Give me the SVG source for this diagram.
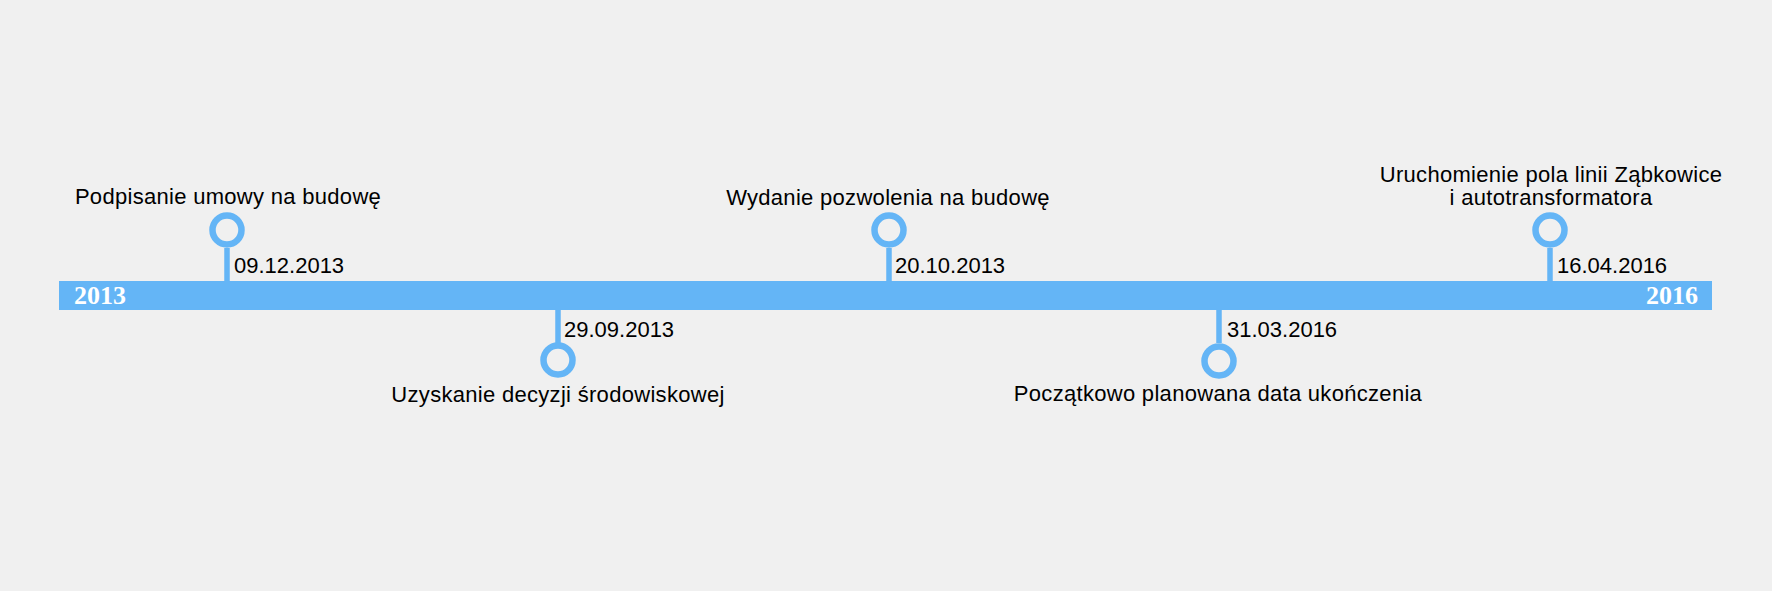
<svg xmlns="http://www.w3.org/2000/svg" width="1772" height="591" viewBox="0 0 1772 591">
<style>
.lbl{font-family:"Liberation Sans",Arial,sans-serif;font-size:22px;fill:#000}
.mid{text-anchor:middle;letter-spacing:0.3px}
.yr{font-family:"Liberation Serif","Times New Roman",serif;font-size:26px;font-weight:bold;fill:#fff}
.stem{stroke:#64b5f6;stroke-width:5.5}
.dot{fill:#f0f0f0;stroke:#64b5f6;stroke-width:6.5}
</style>
<rect width="1772" height="591" fill="#f0f0f0"/>
<g id="timeline">
<rect x="59" y="281" width="1653" height="29" fill="#64b5f6"/>
<text class="yr" x="74" y="304">2013</text>
<text class="yr" x="1698" y="304" text-anchor="end">2016</text>
</g>
<g id="connectors">
<line class="stem" x1="227" y1="248" x2="227" y2="282"/>
<line class="stem" x1="558" y1="309" x2="558" y2="343"/>
<line class="stem" x1="889" y1="248" x2="889" y2="282"/>
<line class="stem" x1="1219" y1="309" x2="1219" y2="343"/>
<line class="stem" x1="1550" y1="248" x2="1550" y2="282"/>
</g>
<g id="e1">
<circle class="dot" cx="227" cy="230" r="14.5"/>
<text class="lbl mid" x="228" y="204">Podpisanie umowy na budowę</text>
<text class="lbl" x="234" y="273">09.12.2013</text>
</g>
<g id="e2">
<circle class="dot" cx="558" cy="360" r="14.5"/>
<text class="lbl mid" x="558" y="402">Uzyskanie decyzji środowiskowej</text>
<text class="lbl" x="564" y="337">29.09.2013</text>
</g>
<g id="e3">
<circle class="dot" cx="889" cy="230" r="14.5"/>
<text class="lbl mid" x="888" y="205">Wydanie pozwolenia na budowę</text>
<text class="lbl" x="895" y="273">20.10.2013</text>
</g>
<g id="e4">
<circle class="dot" cx="1219" cy="361" r="14.5"/>
<text class="lbl mid" x="1218" y="401">Początkowo planowana data ukończenia</text>
<text class="lbl" x="1227" y="337">31.03.2016</text>
</g>
<g id="e5">
<circle class="dot" cx="1550" cy="230" r="14.5"/>
<text class="lbl mid" x="1551" y="182">Uruchomienie pola linii Ząbkowice</text>
<text class="lbl mid" x="1551" y="205">i autotransformatora</text>
<text class="lbl" x="1557" y="273">16.04.2016</text>
</g>
</svg>
